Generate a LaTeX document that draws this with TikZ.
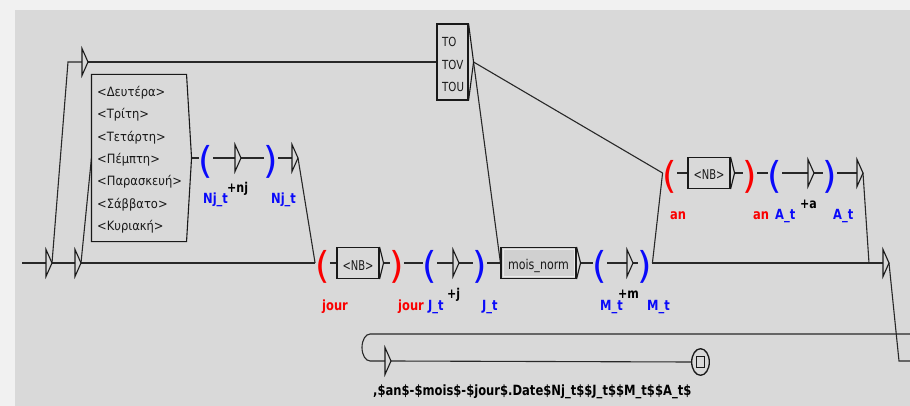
\documentclass[tikz,border=0pt]{standalone}
\usepackage{fontspec}
\usepackage{graphicx}
\setmainfont{DejaVu Sans}
\newfontfamily\sqfont{DejaVu Sans}[FakeStretch=0.82]
\newfontfamily\dayfont{DejaVu Sans}[FakeStretch=0.9]
\usetikzlibrary{calc,shapes.geometric}

\definecolor{pagebg}{RGB}{241,241,241}
\definecolor{canvas}{RGB}{217,217,217}
\definecolor{ink}{RGB}{40,40,40}
\definecolor{varred}{RGB}{250,0,0}
\definecolor{varblue}{RGB}{10,10,250}
\definecolor{callfill}{RGB}{208,208,208}

\pgfdeclarelayer{bg}
\pgfdeclarelayer{wires}
\pgfsetlayers{bg,wires,main}

\tikzset{
  wire/.style={draw=ink, line width=1.1pt},
  frame/.style={draw=black!90, line width=1.1pt, fill=canvas, rectangle, inner sep=0pt},
  edge/.style={draw=black!90, line width=1.1pt, line join=miter},
  paren/.style={inner sep=0pt, font=\fontsize{37}{38}\selectfont, text height=31.5pt, text depth=1.4pt},
  lbl/.style={anchor=base west, inner sep=0pt, font=\sqfont\bfseries\fontsize{14}{15}\selectfont},
  outlbl/.style={anchor=base west, inner sep=0pt, text=black, font=\sqfont\bfseries\fontsize{13.5}{15}\selectfont},
  boxtext/.style={anchor=base west, inner sep=0pt, text=black!90, font=\sqfont\fontsize{13.5}{15}\selectfont},
  daytext/.style={anchor=base west, inner sep=0pt, text=black!90, font=\dayfont\fontsize{12.8}{15}\selectfont},
  arrowbox/.pic={
    \draw[edge, fill=canvas] (0,-13.5) -- (6,0) -- (0,13.5) -- cycle;
    \coordinate (-in) at (0,0);
    \coordinate (-out) at (6,0);
  },
}
\newcommand\outwedge[2]{\draw[edge] (#1.north east) -- ($(#1.east)+(#2,0)$) coordinate (#1-tip) -- (#1.south east);}

\begin{document}
\begin{tikzpicture}[x=1pt,y=-1pt]
\begin{pgfonlayer}{bg}
  \fill[pagebg] (0,0) rectangle (910,406);
  \fill[canvas] (15,10) rectangle (910,406);
\end{pgfonlayer}
\useasboundingbox (0,0) rectangle (910,406);

% ---- boxes ----
\node[frame, draw=none, minimum width=94, minimum height=166] (days) at (139,158) {};
\draw[edge] (days.north east) -- (days.north west) -- (days.south west) -- (days.south east)
  -- ($(days.east)+(5,0)$) coordinate (days-tip) -- cycle;
\foreach \d [count=\i from 0] in {<Δευτέρα>,<Τρίτη>,<Τετάρτη>,<Πέμπτη>,<Παρασκευή>,<Σάββατο>,<Κυριακή>}
  \node[daytext] (day\i) at (97,{96.5+22.3*\i}) {\d};

\node[frame, minimum width=31, minimum height=76] (art) at (452.5,62) {};
\outwedge{art}{5}
\node[boxtext, font=\sqfont\fontsize{12.5}{15}\selectfont] (art1) at (442,46.5) {TO};
\node[boxtext, font=\sqfont\fontsize{12.5}{15}\selectfont] (art2) at (442,69.5) {TOV};
\node[boxtext, font=\sqfont\fontsize{12.5}{15}\selectfont] (art3) at (442,91.5) {TOU};

\node[frame, minimum width=42, minimum height=31] (nb1) at (358,263) {};
\outwedge{nb1}{4}
\node[boxtext, anchor=base] (nb1t) at (358,270) {\scalebox{0.9}[1]{<NB>}};

\node[frame, fill=callfill, minimum width=75, minimum height=31] (mois) at (538.5,263) {};
\draw[white!55!callfill, line width=0.8pt] ($(mois.north west)+(2.5,2.5)$) rectangle ($(mois.south east)+(-2.5,-2.5)$);
\outwedge{mois}{4}
\node[boxtext, anchor=base] (moist) at (538.5,269.5) {mois\_norm};

\node[frame, minimum width=42, minimum height=31] (nb2) at (709,173) {};
\outwedge{nb2}{4}
\node[boxtext, anchor=base] (nb2t) at (709,180) {\scalebox{0.9}[1]{<NB>}};

% ---- arrow boxes ----
\pic (tA) at (46,263) {arrowbox};
\pic (tB) at (75,263) {arrowbox};
\pic (tTop) at (82,62) {arrowbox};
\pic (tN) at (235,158) {arrowbox};
\pic (tN2) at (292,158) {arrowbox};
\pic (tJ) at (453,263) {arrowbox};
\pic (tM) at (627,263) {arrowbox};
\pic (tA1) at (808,173) {arrowbox};
\pic (tA2) at (857,173) {arrowbox};
\pic (tEnd) at (883,263) {arrowbox};
\pic (tOut) at (385,361) {arrowbox};

% ---- variable brackets ----
\node[paren, text=varblue] (pN1) at (206,158) {(};
\node[paren, text=varblue] (pN2) at (271,158) {)};
\node[paren, text=varred]  (pj1) at (322.5,263) {(};
\node[paren, text=varred]  (pj2) at (397,263) {)};
\node[paren, text=varblue] (pJ1) at (430,263) {(};
\node[paren, text=varblue] (pJ2) at (480,263) {)};
\node[paren, text=varblue] (pM1) at (600,263) {(};
\node[paren, text=varblue] (pM2) at (645,263) {)};
\node[paren, text=varred]  (pa1) at (670,173) {(};
\node[paren, text=varred]  (pa2) at (750,173) {)};
\node[paren, text=varblue] (pA1) at (775,173) {(};
\node[paren, text=varblue] (pA2) at (830,173) {)};

% ---- final state ----
\node[ellipse, draw=black!90, line width=1.3pt, fill=canvas, inner sep=0pt,
      minimum width=17.6, minimum height=26.6] (final) at (700.5,362) {};
\node[draw=black!90, line width=1.1pt, inner sep=0pt, minimum width=8, minimum height=11] (finalsq) at (final.center) {};

% ---- labels ----
\node[lbl, text=varblue] (lNj1) at (203,204) {Nj\_t};
\node[outlbl] (oNj) at (227,193) {+nj};
\node[lbl, text=varblue] (lNj2) at (271,204) {Nj\_t};
\node[lbl, text=varred]  (ljour1) at (322,310) {jour};
\node[lbl, text=varred]  (ljour2) at (398,310) {jour};
\node[lbl, text=varblue] (lJ1) at (428,310) {J\_t};
\node[outlbl] (oJ) at (447,298) {+j};
\node[lbl, text=varblue] (lJ2) at (482,310) {J\_t};
\node[lbl, text=varblue] (lM1) at (600,310) {M\_t};
\node[outlbl] (oM) at (618,298) {+m};
\node[lbl, text=varblue] (lM2) at (647,310) {M\_t};
\node[lbl, text=varred]  (lan1) at (670,220) {an};
\node[lbl, text=varred]  (lan2) at (753,220) {an};
\node[lbl, text=varblue] (lA1) at (775,220) {A\_t};
\node[outlbl] (oA) at (800,208) {+a};
\node[lbl, text=varblue] (lA2) at (833,220) {A\_t};
\node[outlbl, font=\sqfont\bfseries\fontsize{14.1}{15}\selectfont] (oOut) at (373,395) {,\$an\$-\$mois\$-\$jour\$.Date\$Nj\_t\$\$J\_t\$\$M\_t\$\$A\_t\$};

% ---- connectors ----
\coordinate (start) at (22,263);
\coordinate (bendTL) at (68,62);
\coordinate (merge) at (869,263);
\coordinate (drop) at (899,361);
\coordinate (exitR) at (910,361);
\coordinate (backR) at (910,334);
\coordinate (loopTop) at (370,334);
\begin{pgfonlayer}{wires}
  \draw[wire] (start) -- (tA-in);
  \draw[wire] (tA-out) -- (tB-in);
  \draw[wire] (tB-out) -- (pj1.west);
  \draw[wire] (tA-out) -- (bendTL) -- (tTop-in);
  \draw[wire] (tTop-out) -- (art.west);
  \draw[wire] (tB-out) -- (days.west);
  \draw[wire] (days-tip) -- (pN1.west);
  \draw[wire] (pN1.east) -- (tN-in);
  \draw[wire] (tN-out) -- (pN2.west);
  \draw[wire] (pN2.east) -- (tN2-in);
  \draw[wire] (tN2-out) -- (pj1.west);
  \draw[wire] (pj1.east) -- (nb1.west);
  \draw[wire] (nb1-tip) -- (pj2.west);
  \draw[wire] (pj2.east) -- (pJ1.west);
  \draw[wire] (pJ1.east) -- (tJ-in);
  \draw[wire] (tJ-out) -- (pJ2.west);
  \draw[wire] (pJ2.east) -- (mois.west);
  \draw[wire] (mois-tip) -- (pM1.west);
  \draw[wire] (pM1.east) -- (tM-in);
  \draw[wire] (tM-out) -- (pM2.west);
  \draw[wire] (pM2.east) -- (tEnd-in);
  \draw[wire] (pM2.east) -- (pa1.west);
  \draw[wire] (art-tip) -- (mois.west);
  \draw[wire] (art-tip) -- (pa1.west);
  \draw[wire] (pa1.east) -- (nb2.west);
  \draw[wire] (nb2-tip) -- (pa2.west);
  \draw[wire] (pa2.east) -- (pA1.west);
  \draw[wire] (pA1.east) -- (tA1-in);
  \draw[wire] (tA1-out) -- (pA2.west);
  \draw[wire] (pA2.east) -- (tA2-in);
  \draw[wire] (tA2-out) -- (merge);
  \draw[wire] (tEnd-out) -- (drop) -- (exitR);
  \draw[wire] (backR) -- (loopTop) arc[start angle=-90, end angle=-270, x radius=8, y radius=13.5] -- (tOut-in);
  \draw[wire] (tOut-out) -- (final.west);
\end{pgfonlayer}
\end{tikzpicture}
\end{document}
